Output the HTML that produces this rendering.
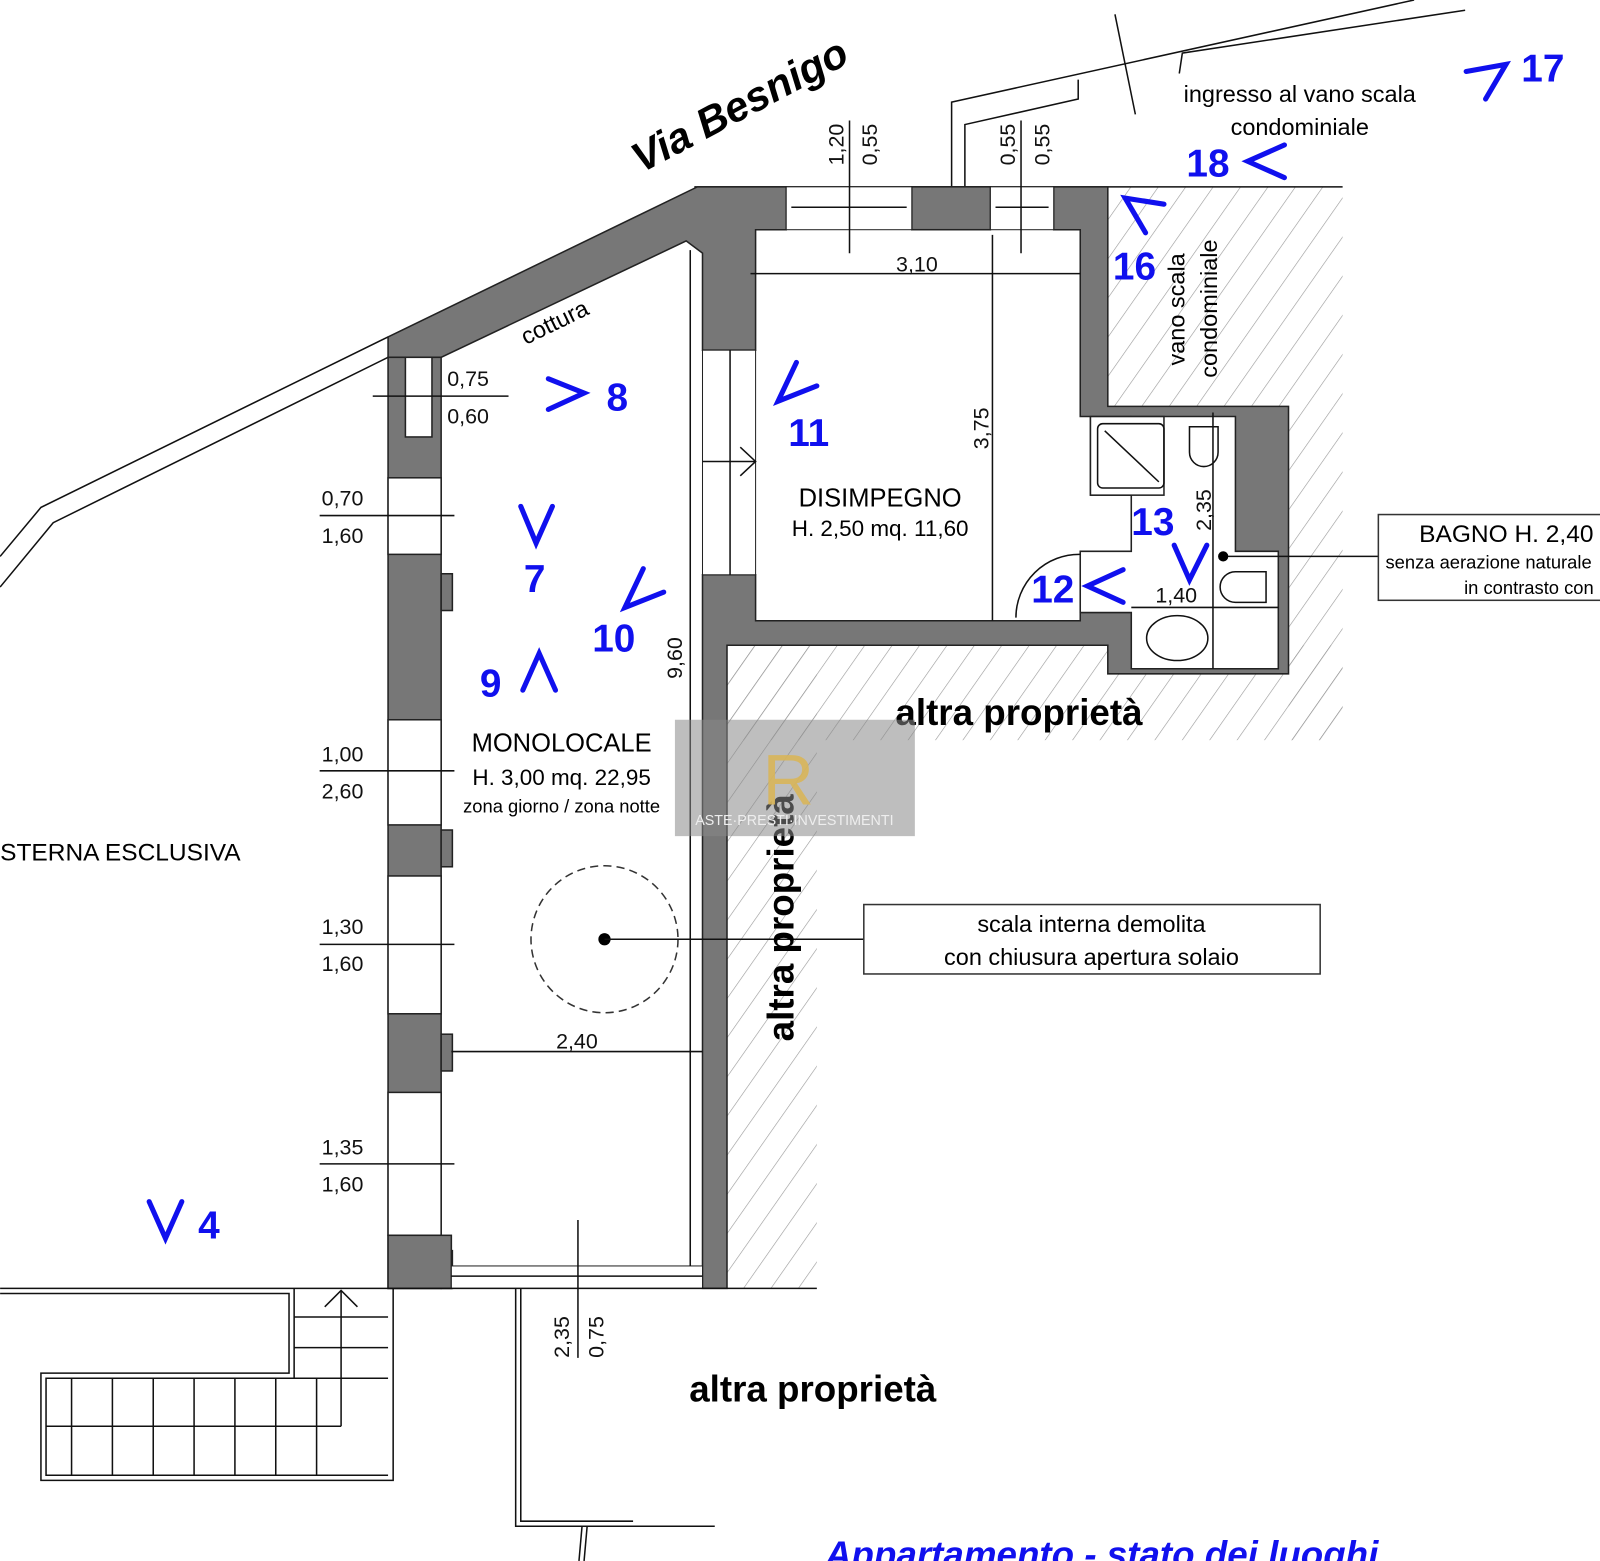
<!DOCTYPE html>
<html><head><meta charset="utf-8"><style>
html,body{margin:0;padding:0;background:#fff}
svg{display:block}
text{font-family:"Liberation Sans",sans-serif}
.d{font-size:21px;fill:#111}
.b{fill:#1010ee;font-weight:bold;font-size:38px}
.bl{stroke:#1010ee;stroke-width:5;fill:none;stroke-linecap:round}
.l{stroke:#111;stroke-width:1.5;fill:none}
.w{fill:#777;stroke:#222;stroke-width:1.5}
</style></head><body>
<svg width="1600" height="1561" viewBox="0 0 1567 1529" xmlns="http://www.w3.org/2000/svg">
<defs><pattern id="h" width="22" height="22" patternUnits="userSpaceOnUse" patternTransform="rotate(35)"><line x1="0" y1="0" x2="0" y2="22" stroke="#999" stroke-width="1.2"/></pattern></defs>
<rect x="1085" y="183" width="230" height="215" fill="url(#h)"/>
<rect x="1262" y="398" width="53" height="327" fill="url(#h)"/>
<rect x="712" y="632" width="603" height="93" fill="url(#h)"/>
<rect x="712" y="632" width="88" height="630" fill="url(#h)"/>
<polyline class="l" points="0,545 40,497 380,330"/>
<polyline class="l" points="0,575 52,512 380,350"/>
<polyline class="l" points="932,183 932,100 1385,0"/>
<polyline class="l" points="945,183 945,122 1056,97 1056,78"/>
<polyline class="l" points="1155,72 1158,52 1435,10"/>
<line class="l" x1="1092" y1="14" x2="1112" y2="112"/>
<line class="l" x1="680" y1="183" x2="1315" y2="183"/>
<polygon class="w" points="380,330 683,183 770,183 770,225 740,225 740,343 688,343 688,248 672,236 432,350 380,350"/>
<rect class="w" x="893" y="183" width="77" height="42"/>
<polygon class="w" points="1032,183 1085,183 1085,398 1262,398 1262,660 1085,660 1085,632 712,632 712,1262 688,1262 688,563 740,563 740,608 1058,608 1058,540 1108,540 1108,485 1068,485 1068,408 1108,408 1058,408 1058,225 1032,225"/>
<rect fill="#fff" x="1068" y="408" width="142" height="77"/>
<polygon fill="#fff" stroke="#222" stroke-width="1.5" points="1108,408 1210,408 1210,540 1252,540 1252,655 1108,655 1108,600 1058,600 1058,540 1108,540"/>
<rect fill="#fff" x="1068" y="408" width="72" height="77" stroke="#222" stroke-width="1.5"/>
<rect class="w" x="380" y="350" width="52" height="912"/>
<g fill="#fff" stroke="#222" stroke-width="1.5">
<rect x="380" y="468" width="52" height="75"/>
<rect x="380" y="705" width="52" height="103"/>
<rect x="380" y="858" width="52" height="135"/>
<rect x="380" y="1070" width="52" height="140"/>
<rect x="397" y="350" width="26" height="78"/>
</g>
<g class="w"><rect x="432" y="562" width="11" height="36"/><rect x="432" y="813" width="11" height="36"/><rect x="432" y="1013" width="11" height="36"/><rect x="432" y="1225" width="11" height="37"/></g>
<rect class="w" x="380" y="1210" width="62" height="52"/>
<rect fill="#fff" stroke="#222" x="770" y="183" width="123" height="42"/>
<rect fill="#fff" stroke="#222" x="970" y="183" width="62" height="42"/>
<line class="l" x1="775" y1="203" x2="888" y2="203"/><line class="l" x1="975" y1="203" x2="1027" y2="203"/>
<rect fill="#fff" stroke="#222" x="688" y="343" width="52" height="220"/>
<line class="l" x1="715" y1="343" x2="715" y2="563"/>
<line class="l" x1="688" y1="452" x2="740" y2="452"/><polyline class="l" points="725,438 740,452 725,466"/>
<rect fill="#fff" stroke="#222" x="442" y="1240" width="246" height="22"/>
<line class="l" x1="442" y1="1250" x2="688" y2="1250"/>
<line class="l" x1="0" y1="1262" x2="800" y2="1262"/>
<line class="l" x1="676" y1="245" x2="676" y2="1240"/>
<line class="l" x1="442" y1="1030" x2="688" y2="1030"/>
<line class="l" x1="735" y1="268" x2="1058" y2="268"/>
<line class="l" x1="972" y1="230" x2="972" y2="608"/>
<line class="l" x1="1188" y1="404" x2="1188" y2="655"/>
<line class="l" x1="1108" y1="595" x2="1252" y2="595"/>
<line class="l" x1="832" y1="118" x2="832" y2="248"/><line class="l" x1="1000" y1="118" x2="1000" y2="248"/>
<line class="l" x1="566" y1="1195" x2="566" y2="1330"/>
<line class="l" x1="365" y1="388" x2="498" y2="388"/>
<line class="l" x1="313" y1="505" x2="445" y2="505"/>
<line class="l" x1="313" y1="755" x2="445" y2="755"/>
<line class="l" x1="313" y1="925" x2="445" y2="925"/>
<line class="l" x1="313" y1="1140" x2="445" y2="1140"/>
<g class="l">
<polyline points="0,1267 283,1267 283,1345 40,1345 40,1450 385,1450 385,1262"/>
<polyline points="288,1262 288,1350 45,1350 45,1445 380,1445"/>
<line x1="288" y1="1290" x2="380" y2="1290"/><line x1="288" y1="1320" x2="380" y2="1320"/><line x1="288" y1="1350" x2="380" y2="1350"/>
<line x1="45" y1="1397" x2="334" y2="1397"/><line x1="334" y1="1264" x2="334" y2="1397"/>
<polyline points="318,1280 334,1264 350,1280"/>
<line x1="70" y1="1350" x2="70" y2="1445"/><line x1="110" y1="1350" x2="110" y2="1445"/><line x1="150" y1="1350" x2="150" y2="1445"/><line x1="190" y1="1350" x2="190" y2="1445"/><line x1="230" y1="1350" x2="230" y2="1445"/><line x1="270" y1="1350" x2="270" y2="1445"/><line x1="310" y1="1350" x2="310" y2="1445"/>
<polyline points="505,1262 505,1495 700,1495"/><polyline points="510,1262 510,1490 620,1490"/>
<line x1="570" y1="1495" x2="567" y2="1529"/><line x1="575" y1="1495" x2="572" y2="1529"/>
</g>
<g class="l" stroke="#888">
<rect x="1075" y="415" width="65" height="63" rx="5"/><line x1="1082" y1="422" x2="1135" y2="472"/>
<path d="M1165,418 h28 v25 a14,14 0 0 1 -28,0 z"/>
<path d="M1240,560 h-30 a15,15 0 0 0 0,30 h30 z"/>
<ellipse cx="1153" cy="625" rx="30" ry="22"/>
</g>
<path d="M995,605 A62,62 0 0 1 1058,543" class="l"/>
<line class="l" x1="1198" y1="545" x2="1350" y2="545"/>
<circle cx="1198" cy="545" r="5" fill="#000"/>
<circle cx="592" cy="920" r="72" fill="none" stroke="#333" stroke-width="1.5" stroke-dasharray="8,5"/>
<circle cx="592" cy="920" r="6" fill="#000"/>
<line class="l" x1="592" y1="920" x2="846" y2="920"/>
<rect x="846" y="886" width="447" height="68" fill="#fff" stroke="#333" stroke-width="1.5"/>
<text x="1069" y="913" font-size="23" text-anchor="middle">scala interna demolita</text>
<text x="1069" y="945" font-size="23" text-anchor="middle">con chiusura apertura solaio</text>
<rect x="1350" y="504" width="230" height="84" fill="#fff" stroke="#333" stroke-width="1.5"/>
<text x="1390" y="531" font-size="24">BAGNO H. 2,40</text>
<text x="1357" y="557" font-size="18">senza aerazione naturale</text>
<text x="1434" y="582" font-size="18">in contrasto con</text>
<text x="0" y="0" font-size="41" font-style="italic" font-weight="bold" transform="translate(628,170) rotate(-28)">Via Besnigo</text>
<text font-size="23" transform="translate(515,338) rotate(-26)">cottura</text>
<text x="1273" y="100" font-size="23" text-anchor="middle">ingresso al vano scala</text>
<text x="1273" y="132" font-size="23" text-anchor="middle">condominiale</text>
<text font-size="23" transform="translate(1160,358) rotate(-90)">vano scala</text>
<text font-size="23" transform="translate(1192,370) rotate(-90)">condominiale</text>
<text x="862" y="496" font-size="25" text-anchor="middle">DISIMPEGNO</text>
<text x="862" y="525" font-size="22" text-anchor="middle">H. 2,50 mq. 11,60</text>
<text x="550" y="736" font-size="25" text-anchor="middle">MONOLOCALE</text>
<text x="550" y="769" font-size="22" text-anchor="middle">H. 3,00 mq. 22,95</text>
<text x="550" y="796" font-size="18" text-anchor="middle">zona giorno / zona notte</text>
<text x="0" y="843" font-size="24">STERNA ESCLUSIVA</text>
<text x="998" y="710" font-size="36" font-weight="bold" text-anchor="middle">altra proprietà</text>
<text x="796" y="1373" font-size="36" font-weight="bold" text-anchor="middle">altra proprietà</text>
<text font-size="36" font-weight="bold" transform="translate(777,1020) rotate(-90)">altra proprietà</text>
<text x="808" y="1535" font-size="36" font-weight="bold" font-style="italic" fill="#1010ee">Appartamento - stato dei luoghi</text>
<text class="d" x="438" y="378">0,75</text><text class="d" x="438" y="415">0,60</text>
<text class="d" x="315" y="495">0,70</text><text class="d" x="315" y="532">1,60</text>
<text class="d" x="315" y="746">1,00</text><text class="d" x="315" y="782">2,60</text>
<text class="d" x="315" y="915">1,30</text><text class="d" x="315" y="951">1,60</text>
<text class="d" x="315" y="1131">1,35</text><text class="d" x="315" y="1167">1,60</text>
<text class="d" font-family="Liberation Serif" x="898" y="266" text-anchor="middle" font-size="22">3,10</text>
<text class="d" font-family="Liberation Serif" x="565" y="1027" text-anchor="middle" font-size="22">2,40</text>
<text class="d" font-family="Liberation Serif" x="1152" y="590" text-anchor="middle" font-size="22">1,40</text>
<text class="d" font-family="Liberation Serif" font-size="22" transform="translate(968,440) rotate(-90)">3,75</text>
<text class="d" font-family="Liberation Serif" font-size="22" transform="translate(668,665) rotate(-90)">9,60</text>
<text class="d" font-family="Liberation Serif" font-size="22" transform="translate(1186,520) rotate(-90)">2,35</text>
<text class="d" transform="translate(826,162) rotate(-90)">1,20</text><text class="d" transform="translate(859,162) rotate(-90)">0,55</text>
<text class="d" transform="translate(994,162) rotate(-90)">0,55</text><text class="d" transform="translate(1028,162) rotate(-90)">0,55</text>
<text class="d" transform="translate(557,1330) rotate(-90)">2,35</text><text class="d" transform="translate(591,1330) rotate(-90)">0,75</text>
<polyline class="bl" points="537,371 572,385 537,401"/><text class="b" x="594" y="402">8</text>
<polyline class="bl" points="510,496 525,532 541,496"/><text class="b" x="513" y="580">7</text>
<polyline class="bl" points="512,676 528,640 544,676"/><text class="b" x="470" y="682">9</text>
<polyline class="bl" points="630,557 612,595 650,580"/><text class="b" x="580" y="638">10</text>
<polyline class="bl" points="780,355 762,393 800,378"/><text class="b" x="772" y="437">11</text>
<polyline class="bl" points="1100,558 1065,574 1100,590"/><text class="b" x="1010" y="590">12</text>
<polyline class="bl" points="1150,534 1165,568 1182,534"/><text class="b" x="1108" y="524">13</text>
<polyline class="bl" points="1140,200 1102,194 1122,228"/><text class="b" x="1090" y="274">16</text>
<polyline class="bl" points="1436,70 1475,63 1455,97"/><text class="b" x="1490" y="80">17</text>
<polyline class="bl" points="1258,142 1222,158 1258,174"/><text class="b" x="1162" y="173">18</text>
<polyline class="bl" points="146,1177 162,1213 178,1177"/><text class="b" x="194" y="1213">4</text>
<rect x="661" y="705" width="235" height="114" fill="#888" opacity="0.55"/>
<text x="772" y="788" font-size="70" font-family="Liberation Serif" fill="#d9b65a" text-anchor="middle" opacity="0.9">R</text>
<text x="778" y="808" font-size="14" font-family="Liberation Serif" fill="#eee" text-anchor="middle">ASTE·PRESTI·INVESTIMENTI</text>
</svg>
</body></html>
